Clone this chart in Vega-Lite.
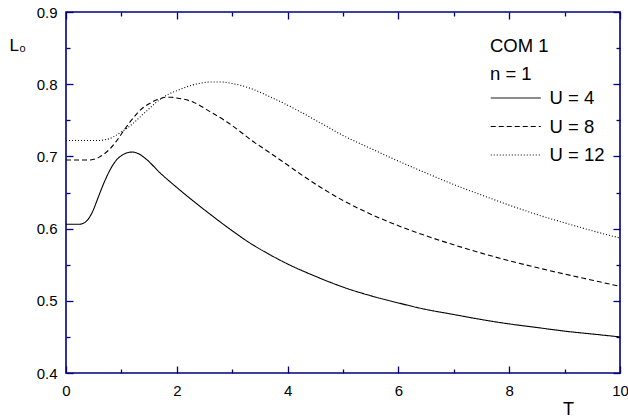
{
  "$schema": "https://vega.github.io/schema/vega-lite/v6.json",
  "width": 554,
  "height": 361,
  "autosize": "none",
  "padding": {"left": 66, "top": 12, "right": 8, "bottom": 46},
  "config": {
    "view": {"stroke": "#000080", "strokeWidth": 1.6},
    "font": "Liberation Sans"
  },
  "data": {
    "values": [
      {"U": "U = 4", "T": 0, "L": 0.606},
      {"U": "U = 4", "T": 0.25, "L": 0.606},
      {"U": "U = 4", "T": 0.3, "L": 0.607},
      {"U": "U = 4", "T": 0.35, "L": 0.609},
      {"U": "U = 4", "T": 0.4, "L": 0.613},
      {"U": "U = 4", "T": 0.45, "L": 0.619},
      {"U": "U = 4", "T": 0.5, "L": 0.627},
      {"U": "U = 4", "T": 0.55, "L": 0.637},
      {"U": "U = 4", "T": 0.6, "L": 0.647},
      {"U": "U = 4", "T": 0.7, "L": 0.666},
      {"U": "U = 4", "T": 0.8, "L": 0.682},
      {"U": "U = 4", "T": 0.9, "L": 0.694},
      {"U": "U = 4", "T": 1.0, "L": 0.701},
      {"U": "U = 4", "T": 1.1, "L": 0.705},
      {"U": "U = 4", "T": 1.2, "L": 0.706},
      {"U": "U = 4", "T": 1.3, "L": 0.704},
      {"U": "U = 4", "T": 1.45, "L": 0.696},
      {"U": "U = 4", "T": 1.7, "L": 0.677},
      {"U": "U = 4", "T": 2.0, "L": 0.657},
      {"U": "U = 4", "T": 2.3, "L": 0.638},
      {"U": "U = 4", "T": 2.6, "L": 0.620},
      {"U": "U = 4", "T": 3.0, "L": 0.597},
      {"U": "U = 4", "T": 3.3, "L": 0.581},
      {"U": "U = 4", "T": 3.7, "L": 0.563},
      {"U": "U = 4", "T": 4.0, "L": 0.551},
      {"U": "U = 4", "T": 4.5, "L": 0.534},
      {"U": "U = 4", "T": 5.0, "L": 0.519},
      {"U": "U = 4", "T": 5.5, "L": 0.507},
      {"U": "U = 4", "T": 6.0, "L": 0.497},
      {"U": "U = 4", "T": 6.5, "L": 0.488},
      {"U": "U = 4", "T": 7.0, "L": 0.481},
      {"U": "U = 4", "T": 7.5, "L": 0.474},
      {"U": "U = 4", "T": 8.0, "L": 0.468},
      {"U": "U = 4", "T": 8.5, "L": 0.463},
      {"U": "U = 4", "T": 9.0, "L": 0.458},
      {"U": "U = 4", "T": 9.5, "L": 0.454},
      {"U": "U = 4", "T": 10, "L": 0.450},

      {"U": "U = 8", "T": 0, "L": 0.695},
      {"U": "U = 8", "T": 0.4, "L": 0.695},
      {"U": "U = 8", "T": 0.5, "L": 0.696},
      {"U": "U = 8", "T": 0.6, "L": 0.699},
      {"U": "U = 8", "T": 0.7, "L": 0.704},
      {"U": "U = 8", "T": 0.8, "L": 0.711},
      {"U": "U = 8", "T": 0.9, "L": 0.720},
      {"U": "U = 8", "T": 1.0, "L": 0.731},
      {"U": "U = 8", "T": 1.1, "L": 0.742},
      {"U": "U = 8", "T": 1.2, "L": 0.752},
      {"U": "U = 8", "T": 1.3, "L": 0.761},
      {"U": "U = 8", "T": 1.4, "L": 0.768},
      {"U": "U = 8", "T": 1.5, "L": 0.773},
      {"U": "U = 8", "T": 1.6, "L": 0.777},
      {"U": "U = 8", "T": 1.7, "L": 0.780},
      {"U": "U = 8", "T": 1.8, "L": 0.782},
      {"U": "U = 8", "T": 1.9, "L": 0.782},
      {"U": "U = 8", "T": 2.0, "L": 0.781},
      {"U": "U = 8", "T": 2.3, "L": 0.775},
      {"U": "U = 8", "T": 2.6, "L": 0.762},
      {"U": "U = 8", "T": 2.9, "L": 0.748},
      {"U": "U = 8", "T": 3.1, "L": 0.737},
      {"U": "U = 8", "T": 3.3, "L": 0.725},
      {"U": "U = 8", "T": 3.7, "L": 0.704},
      {"U": "U = 8", "T": 4.0, "L": 0.688},
      {"U": "U = 8", "T": 4.3, "L": 0.672},
      {"U": "U = 8", "T": 4.6, "L": 0.657},
      {"U": "U = 8", "T": 5.0, "L": 0.639},
      {"U": "U = 8", "T": 5.5, "L": 0.620},
      {"U": "U = 8", "T": 6.0, "L": 0.604},
      {"U": "U = 8", "T": 6.5, "L": 0.590},
      {"U": "U = 8", "T": 7.0, "L": 0.5775},
      {"U": "U = 8", "T": 7.5, "L": 0.566},
      {"U": "U = 8", "T": 8.0, "L": 0.5555},
      {"U": "U = 8", "T": 8.5, "L": 0.546},
      {"U": "U = 8", "T": 9.0, "L": 0.537},
      {"U": "U = 8", "T": 9.5, "L": 0.5285},
      {"U": "U = 8", "T": 10, "L": 0.520},

      {"U": "U = 12", "T": 0, "L": 0.722},
      {"U": "U = 12", "T": 0.6, "L": 0.722},
      {"U": "U = 12", "T": 0.7, "L": 0.723},
      {"U": "U = 12", "T": 0.8, "L": 0.725},
      {"U": "U = 12", "T": 0.9, "L": 0.729},
      {"U": "U = 12", "T": 1.0, "L": 0.734},
      {"U": "U = 12", "T": 1.1, "L": 0.739},
      {"U": "U = 12", "T": 1.2, "L": 0.745},
      {"U": "U = 12", "T": 1.3, "L": 0.752},
      {"U": "U = 12", "T": 1.4, "L": 0.759},
      {"U": "U = 12", "T": 1.5, "L": 0.766},
      {"U": "U = 12", "T": 1.6, "L": 0.773},
      {"U": "U = 12", "T": 1.7, "L": 0.779},
      {"U": "U = 12", "T": 1.8, "L": 0.784},
      {"U": "U = 12", "T": 1.9, "L": 0.788},
      {"U": "U = 12", "T": 2.0, "L": 0.791},
      {"U": "U = 12", "T": 2.2, "L": 0.797},
      {"U": "U = 12", "T": 2.4, "L": 0.801},
      {"U": "U = 12", "T": 2.6, "L": 0.803},
      {"U": "U = 12", "T": 2.8, "L": 0.803},
      {"U": "U = 12", "T": 3.0, "L": 0.801},
      {"U": "U = 12", "T": 3.3, "L": 0.795},
      {"U": "U = 12", "T": 3.7, "L": 0.782},
      {"U": "U = 12", "T": 4.2, "L": 0.763},
      {"U": "U = 12", "T": 4.6, "L": 0.746},
      {"U": "U = 12", "T": 5.0, "L": 0.729},
      {"U": "U = 12", "T": 5.5, "L": 0.711},
      {"U": "U = 12", "T": 6.0, "L": 0.6935},
      {"U": "U = 12", "T": 6.5, "L": 0.677},
      {"U": "U = 12", "T": 7.0, "L": 0.661},
      {"U": "U = 12", "T": 7.5, "L": 0.6465},
      {"U": "U = 12", "T": 8.0, "L": 0.6325},
      {"U": "U = 12", "T": 8.5, "L": 0.6195},
      {"U": "U = 12", "T": 9.0, "L": 0.608},
      {"U": "U = 12", "T": 9.5, "L": 0.597},
      {"U": "U = 12", "T": 10, "L": 0.587}
    ]
  },
  "resolve": {"axis": {"x": "independent", "y": "independent"}},
  "layer": [
    {
      "mark": {"type": "line", "color": "black", "strokeWidth": 1.1, "interpolate": "monotone"},
      "encoding": {
        "x": {
          "field": "T", "type": "quantitative",
          "scale": {"domain": [0, 10], "nice": false},
          "axis": {
            "orient": "bottom",
            "values": [0, 2, 4, 6, 8, 10],
            "grid": false,
            "domain": false,
            "tickColor": "#000080",
            "tickWidth": 1.3,
            "tickSize": -7,
            "labelFont": "Liberation Sans",
            "labelFontSize": 15,
            "labelColor": "black",
            "labelFlush": false,
            "labelPadding": 17,
            "title": "T",
            "titleFont": "Liberation Sans",
            "titleFontWeight": "normal",
            "titleColor": "black",
            "titleFontSize": 18,
            "titleAnchor": "start",
            "titleAlign": "center",
            "titleBaseline": "alphabetic",
            "titleX": 502,
            "titleY": 41
          }
        },
        "y": {
          "field": "L", "type": "quantitative",
          "scale": {"domain": [0.4, 0.9], "nice": false, "zero": false},
          "axis": {
            "orient": "left",
            "values": [0.4, 0.5, 0.6, 0.7, 0.8, 0.9],
            "format": ".1f",
            "grid": false,
            "domain": false,
            "tickColor": "#000080",
            "tickWidth": 1.3,
            "tickSize": -7,
            "labelFont": "Liberation Sans",
            "labelFontSize": 15,
            "labelColor": "black",
            "labelFlush": false,
            "labelPadding": 16,
            "title": "L₀",
            "titleFont": "Liberation Sans",
            "titleFontWeight": "normal",
            "titleColor": "black",
            "titleFontSize": 17,
            "titleAngle": 0,
            "titleAlign": "left",
            "titleBaseline": "alphabetic",
            "titleX": -57,
            "titleY": 38
          }
        },
        "strokeDash": {
          "field": "U", "type": "nominal",
          "scale": {"domain": ["U = 4", "U = 8", "U = 12"], "range": [[1, 0], [5, 3], [1, 2]]},
          "legend": {
            "orient": "none",
            "legendX": 424,
            "legendY": 24.5,
            "padding": 0,
            "title": ["COM 1", "n = 1"],
            "titleFont": "Liberation Sans",
            "titleFontSize": 18.5,
            "titleFontWeight": "normal",
            "titleColor": "black",
            "titleLineHeight": 28,
            "titlePadding": 5.75,
            "labelFont": "Liberation Sans",
            "labelFontSize": 18.5,
            "labelColor": "black",
            "symbolType": "M-5,0H5",
            "symbolSize": 100,
            "symbolStrokeWidth": 1,
            "symbolStrokeColor": "black",
            "symbolOffset": 16.5,
            "labelOffset": 24.5,
            "rowPadding": 9.5
          }
        }
      }
    },
    {
      "mark": {"type": "point", "opacity": 0},
      "encoding": {
        "x": {
          "field": "T", "type": "quantitative",
          "axis": {"orient": "top", "values": [0, 2, 4, 6, 8, 10], "grid": false, "domain": false, "tickColor": "#000080", "tickWidth": 1.3, "tickSize": -7, "labels": false, "title": null}
        },
        "y": {
          "field": "L", "type": "quantitative",
          "axis": {"orient": "right", "values": [0.4, 0.5, 0.6, 0.7, 0.8, 0.9], "grid": false, "domain": false, "tickColor": "#000080", "tickWidth": 1.3, "tickSize": -7, "labels": false, "title": null}
        }
      }
    },
    {
      "mark": {"type": "point", "opacity": 0},
      "encoding": {
        "x": {
          "field": "T", "type": "quantitative",
          "axis": {"orient": "bottom", "values": [1, 3, 5, 7, 9], "grid": false, "domain": false, "tickColor": "#000080", "tickWidth": 1.3, "tickSize": -4, "labels": false, "title": null}
        },
        "y": {
          "field": "L", "type": "quantitative",
          "axis": {"orient": "left", "values": [0.45, 0.55, 0.65, 0.75, 0.85], "grid": false, "domain": false, "tickColor": "#000080", "tickWidth": 1.3, "tickSize": -4, "labels": false, "title": null}
        }
      }
    },
    {
      "mark": {"type": "point", "opacity": 0},
      "encoding": {
        "x": {
          "field": "T", "type": "quantitative",
          "axis": {"orient": "top", "values": [1, 3, 5, 7, 9], "grid": false, "domain": false, "tickColor": "#000080", "tickWidth": 1.3, "tickSize": -4, "labels": false, "title": null}
        },
        "y": {
          "field": "L", "type": "quantitative",
          "axis": {"orient": "right", "values": [0.45, 0.55, 0.65, 0.75, 0.85], "grid": false, "domain": false, "tickColor": "#000080", "tickWidth": 1.3, "tickSize": -4, "labels": false, "title": null}
        }
      }
    }
  ]
}
